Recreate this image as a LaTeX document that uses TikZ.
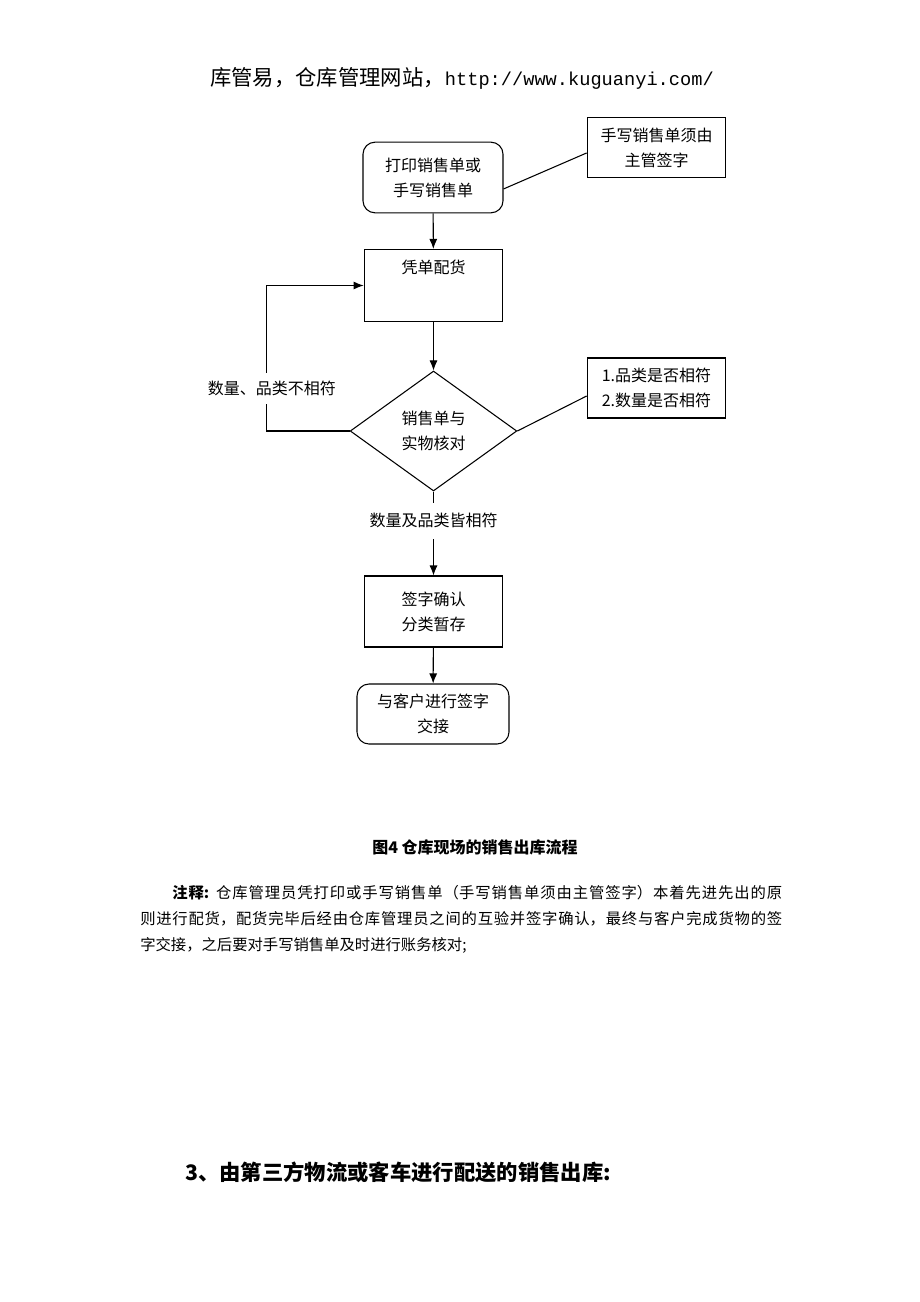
\documentclass[tikz,border=0pt]{standalone}
\usepackage{fontspec}
\setmainfont{Noto Sans CJK SC}
\newfontfamily\urlfont{Liberation Mono}
\usetikzlibrary{shapes.geometric, arrows.meta}
\XeTeXlinebreaklocale "zh"
\XeTeXlinebreakskip=0pt plus 1pt

\begin{document}
\begin{tikzpicture}[x=0.75pt, y=-0.75pt,
    every node/.style={font=\fontsize{12pt}{18.75pt}\selectfont},
    roundbox/.style={draw, line width=0.8pt, rounded corners=9pt, align=center, minimum width=105pt, minimum height=53pt},
    flowbox/.style={draw, line width=0.8pt, align=center, minimum width=104pt, minimum height=54pt},
    notebox/.style={draw, line width=0.8pt, align=center, minimum width=104pt, minimum height=45.5pt},
    decision/.style={draw, line width=0.8pt, diamond, align=center, inner sep=0pt, minimum width=125pt, minimum height=90pt},
    link/.style={line width=0.8pt},
    flowarrow/.style={-{Latex[length=7.5pt, width=6pt]}, line width=0.8pt}]

        \useasboundingbox (0,0) rectangle (920,1302);

        % Page header
        \node[font=\fontsize{16pt}{18pt}\selectfont] (header) at (462,78) {库管易，仓库管理网站，{\urlfont\fontsize{14pt}{18pt}\selectfont http://www.kuguanyi.com/}};

        % Sales order
        \node[roundbox] (print) at (433,177.5) {打印销售单或\\手写销售单};
        \node[notebox] (note1) at (656.5,147.5) {手写销售单须由\\主管签字};

        % Picking
        \node[flowbox, text height=10pt, text depth=28pt] (pick) at (433.5,285.5) {凭单配货};

        % Check against goods
        \node[decision] (check) at (433.5,431) {销售单与\\实物核对};
        \node[notebox, minimum height=45pt] (note2) at (656.5,388) {1.品类是否相符\\2.数量是否相符};

        % Confirm and hand over
        \node[flowbox, minimum height=53.25pt] (confirm) at (433.5,611.5) {签字确认\\分类暂存};
        \node[roundbox, minimum width=114pt, minimum height=45pt] (handover) at (433,714) {与客户进行签字\\交接};

        % Arrows
        \draw[flowarrow] (print) -- (pick);
        \draw[flowarrow] (pick) -- (check);
        \draw[flowarrow] (check.south) -- node[pos=0.35, fill=white, inner sep=8pt] {数量及品类皆相符} (confirm.north);
        \draw[flowarrow] (confirm) -- (handover);
        \draw[flowarrow] (check.west) -- ++(-83,0) |- node[pos=0.146, fill=white, inner sep=6pt, xshift=4pt] {数量、品类不相符} (pick.west);

        % Notes
        \draw[link] ([yshift=-4.1pt]note1.west) -- ([yshift=-8.6pt]print.east);
        \draw[link] ([yshift=-6pt]note2.west) -- (check.east);

        % Caption and text
        \node[font=\fontsize{12pt}{18pt}\selectfont\bfseries] (caption) at (475,847) {图4 仓库现场的销售出库流程};
        \node[anchor=north west, inner sep=0pt, text width=481.5pt, align=justify,
              font=\fontsize{11.5pt}{19.5pt}\selectfont] (remark) at (140,885)
            {\hspace*{24pt}{\bfseries 注释:} 仓库管理员凭打印或手写销售单（手写销售单须由主管签字）本着先进先出的原\linebreak
             则进行配货，配货完毕后经由仓库管理员之间的互验并签字确认，最终与客户完成货物的签\linebreak
             字交接，之后要对手写销售单及时进行账务核对;};
        \node[anchor=west, inner sep=0pt, font=\fontsize{16pt}{18pt}\selectfont\bfseries] (heading) at (185,1172) {3、由第三方物流或客车进行配送的销售出库:};

    \end{tikzpicture}
\end{document}
